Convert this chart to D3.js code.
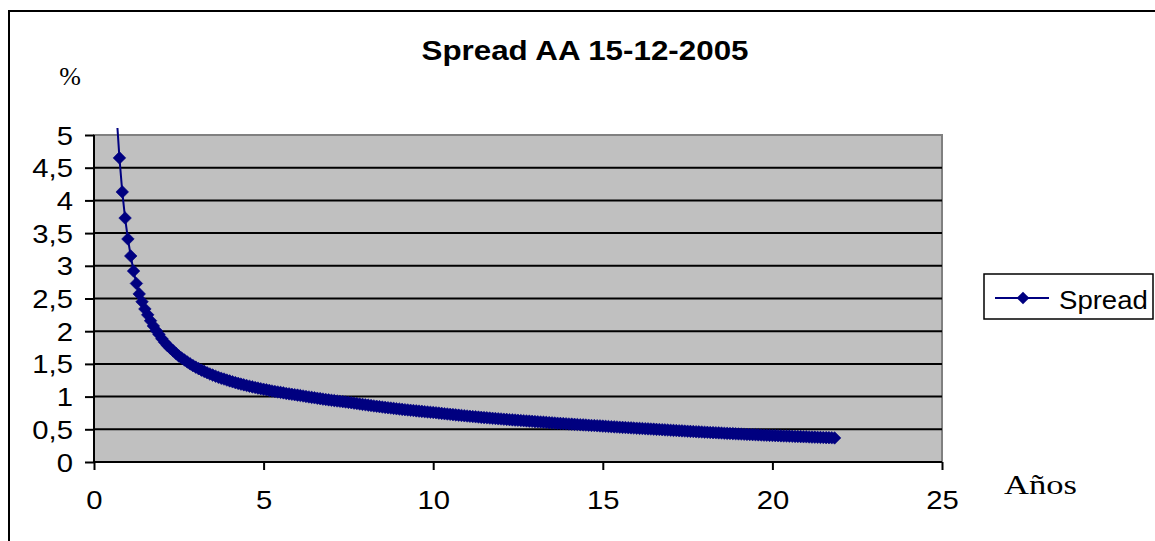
<!DOCTYPE html>
<html><head><meta charset="utf-8">
<script src="https://cdn.jsdelivr.net/npm/d3@7"></script>
<style>html,body{margin:0;padding:0;background:#fff;overflow:hidden}</style>
</head><body>
<svg id="c" width="1155" height="541"></svg>
<script>
// ---- data ----
const titleText = "Spread AA 15-12-2005";
const seriesName = "Spread";
const yUnit = "%";
const xUnit = "Años";
const xTicks = [0, 5, 10, 15, 20, 25];
const xTickLabels = ["0", "5", "10", "15", "20", "25"];
const yTicks = [0, 0.5, 1, 1.5, 2, 2.5, 3, 3.5, 4, 4.5, 5];
const yTickLabels = ["0", "0,5", "1", "1,5", "2", "2,5", "3", "3,5", "4", "4,5", "5"];
// maturity in months
const maturityMonths = [8,9,10,11,12,13,14,15,16,17,18,19,20,21,22,23,24,25,26,27,28,29,30,31,32,33,34,35,36,37,38,39,40,41,42,43,44,45,46,47,48,49,50,51,52,53,54,55,56,57,58,59,60,61,62,63,64,65,66,67,68,69,70,71,72,73,74,75,76,77,78,79,80,81,82,83,84,85,86,87,88,89,90,91,92,93,94,95,96,97,98,99,100,101,102,103,104,105,106,107,108,109,110,111,112,113,114,115,116,117,118,119,120,121,122,123,124,125,126,127,128,129,130,131,132,133,134,135,136,137,138,139,140,141,142,143,144,145,146,147,148,149,150,151,152,153,154,155,156,157,158,159,160,161,162,163,164,165,166,167,168,169,170,171,172,173,174,175,176,177,178,179,180,181,182,183,184,185,186,187,188,189,190,191,192,193,194,195,196,197,198,199,200,201,202,203,204,205,206,207,208,209,210,211,212,213,214,215,216,217,218,219,220,221,222,223,224,225,226,227,228,229,230,231,232,233,234,235,236,237,238,239,240,241,242,243,244,245,246,247,248,249,250,251,252,253,254,255,256,257,258,259,260,261,262];
// spread in %
const spreadValues = [5.30,4.65,4.13,3.73,3.41,3.15,2.92,2.73,2.57,2.45,2.34,2.25,2.16,2.08,2.01,1.95,1.885,1.83,1.78,1.74,1.70,1.66,1.62,1.59,1.56,1.53,1.50,1.474,1.45,1.427,1.405,1.385,1.365,1.346,1.329,1.312,1.295,1.28,1.268,1.253,1.24,1.227,1.214,1.202,1.191,1.18,1.169,1.159,1.149,1.139,1.13,1.121,1.112,1.104,1.095,1.086,1.078,1.071,1.064,1.057,1.048,1.042,1.035,1.029,1.023,1.016,1.009,1.002,0.995,0.988,0.982,0.975,0.969,0.962,0.956,0.950,0.944,0.939,0.933,0.928,0.923,0.917,0.912,0.907,0.900,0.894,0.887,0.881,0.875,0.869,0.863,0.857,0.852,0.846,0.840,0.835,0.830,0.825,0.820,0.814,0.810,0.805,0.800,0.796,0.791,0.787,0.782,0.778,0.774,0.769,0.765,0.761,0.758,0.753,0.748,0.743,0.738,0.734,0.729,0.725,0.720,0.716,0.712,0.707,0.703,0.699,0.695,0.691,0.687,0.683,0.679,0.676,0.672,0.668,0.665,0.661,0.658,0.654,0.651,0.647,0.644,0.641,0.638,0.634,0.631,0.628,0.625,0.622,0.618,0.615,0.612,0.609,0.606,0.602,0.599,0.596,0.593,0.590,0.587,0.584,0.581,0.579,0.576,0.573,0.570,0.567,0.565,0.562,0.559,0.557,0.554,0.552,0.549,0.546,0.543,0.540,0.537,0.535,0.532,0.529,0.527,0.524,0.522,0.519,0.517,0.514,0.512,0.509,0.507,0.504,0.502,0.499,0.497,0.494,0.491,0.489,0.486,0.483,0.481,0.478,0.476,0.473,0.471,0.468,0.466,0.463,0.461,0.459,0.456,0.454,0.451,0.449,0.447,0.445,0.443,0.440,0.438,0.436,0.434,0.431,0.429,0.427,0.425,0.423,0.421,0.419,0.417,0.415,0.413,0.411,0.409,0.407,0.405,0.404,0.402,0.400,0.398,0.397,0.395,0.393,0.391,0.390,0.388,0.386,0.385,0.383,0.381,0.380,0.378,0.376,0.375,0.373,0.372,0.370,0.368];

// ---- layout ----
const svg = d3.select("#c");
const SANS = "'Liberation Sans', Arial, sans-serif";
const SERIF = "'Liberation Serif', 'Times New Roman', serif";
const NAVY = "#000080";
const plot = {left: 94, right: 942, top: 135, bottom: 462};
const TICK_FS = 25, TICK_SX = 1.17;

const x = d3.scaleLinear().domain([xTicks[0], xTicks[xTicks.length-1]]).range([plot.left, plot.right]);
const y = d3.scaleLinear().domain([yTicks[0], yTicks[yTicks.length-1]]).range([plot.bottom, plot.top]);

const data = maturityMonths.map((m, i) => ({t: m / 12, v: spreadValues[i]}));

// chart border
svg.append("rect").attr("x", 9).attr("y", 11).attr("width", 1200).attr("height", 600)
  .attr("fill", "#fff").attr("stroke", "#000").attr("stroke-width", 2);

// plot area
svg.append("rect").attr("x", plot.left).attr("y", plot.top)
  .attr("width", plot.right - plot.left).attr("height", plot.bottom - plot.top)
  .attr("fill", "#C0C0C0").attr("stroke", "#808080").attr("stroke-width", 2);

// gridlines
svg.append("g").selectAll("line").data(yTicks.filter(d => d > yTicks[0] && d < yTicks[yTicks.length-1]))
  .join("line")
  .attr("x1", plot.left).attr("x2", plot.right)
  .attr("y1", d => y(d)).attr("y2", d => y(d))
  .attr("stroke", "#000").attr("stroke-width", 2);

// y axis
const yAxis = d3.axisLeft(y).tickValues(yTicks).tickFormat((d, i) => yTickLabels[i]).tickSize(9);
const gy = svg.append("g").attr("transform", `translate(${plot.left},0)`).call(yAxis);
gy.select(".domain").attr("stroke", "#000").attr("stroke-width", 2).attr("d", `M0,${plot.top}V${plot.bottom}`);
gy.selectAll(".tick line").attr("stroke", "#000").attr("stroke-width", 2);
gy.selectAll(".tick text").attr("font-family", SANS).attr("font-size", TICK_FS).attr("fill", "#000")
  .attr("x", 0).attr("dy", 0).attr("y", 0).attr("text-anchor", "end")
  .attr("transform", `translate(-21,9) scale(${TICK_SX},1)`);

// x axis
const xAxis = d3.axisBottom(x).tickValues(xTicks).tickFormat((d, i) => xTickLabels[i]).tickSize(8);
const gx = svg.append("g").attr("transform", `translate(0,${plot.bottom})`).call(xAxis);
gx.select(".domain").attr("stroke", "#000").attr("stroke-width", 2).attr("d", `M${plot.left},0H${plot.right}`);
gx.selectAll(".tick line").attr("stroke", "#000").attr("stroke-width", 2);
gx.selectAll(".tick text").attr("font-family", SANS).attr("font-size", TICK_FS).attr("fill", "#000")
  .attr("y", 0).attr("dy", 0).attr("text-anchor", "middle")
  .attr("transform", `translate(0,47) scale(${TICK_SX},1)`);

// series
svg.append("defs").append("clipPath").attr("id", "clip")
  .append("rect").attr("x", plot.left).attr("y", plot.top - 7)
  .attr("width", plot.right - plot.left).attr("height", plot.bottom - plot.top + 7);

const line = d3.line().x(d => x(d.t)).y(d => y(d.v));
svg.append("path").datum(data).attr("d", line).attr("fill", "none")
  .attr("stroke", NAVY).attr("stroke-width", 2).attr("clip-path", "url(#clip)");

const diamond = (cx, cy, r) => `M${cx},${cy - r}L${cx + r},${cy}L${cx},${cy + r}L${cx - r},${cy}Z`;
svg.append("g").selectAll("path").data(data.filter(d => d.v <= yTicks[yTicks.length-1]))
  .join("path")
  .attr("d", d => diamond(x(d.t), y(d.v), 6.3))
  .attr("fill", NAVY).attr("stroke", NAVY).attr("stroke-width", 0.6);

// title
svg.append("text").text(titleText).attr("font-family", SANS).attr("font-weight", "bold")
  .attr("font-size", 28).attr("fill", "#000").attr("text-anchor", "middle")
  .attr("transform", "translate(585,60) scale(1.12,1)");

// unit labels
svg.append("text").text(yUnit).attr("font-family", SERIF).attr("font-size", 26)
  .attr("x", 70).attr("y", 85).attr("text-anchor", "middle").attr("fill", "#000");
svg.append("text").text(xUnit).attr("font-family", SERIF).attr("font-size", 27)
  .attr("fill", "#000").attr("transform", "translate(1004,494) scale(1.28,1)");

// legend
svg.append("rect").attr("x", 984).attr("y", 274).attr("width", 169).attr("height", 45)
  .attr("fill", "#fff").attr("stroke", "#000").attr("stroke-width", 1.5);
svg.append("line").attr("x1", 995).attr("x2", 1049).attr("y1", 298).attr("y2", 298)
  .attr("stroke", NAVY).attr("stroke-width", 2);
svg.append("path").attr("d", diamond(1023, 298, 6.3)).attr("fill", NAVY);
svg.append("text").text(seriesName).attr("font-family", SANS).attr("font-size", 26)
  .attr("fill", "#000").attr("transform", "translate(1059,309) scale(1.06,1)");
</script>
</body></html>
